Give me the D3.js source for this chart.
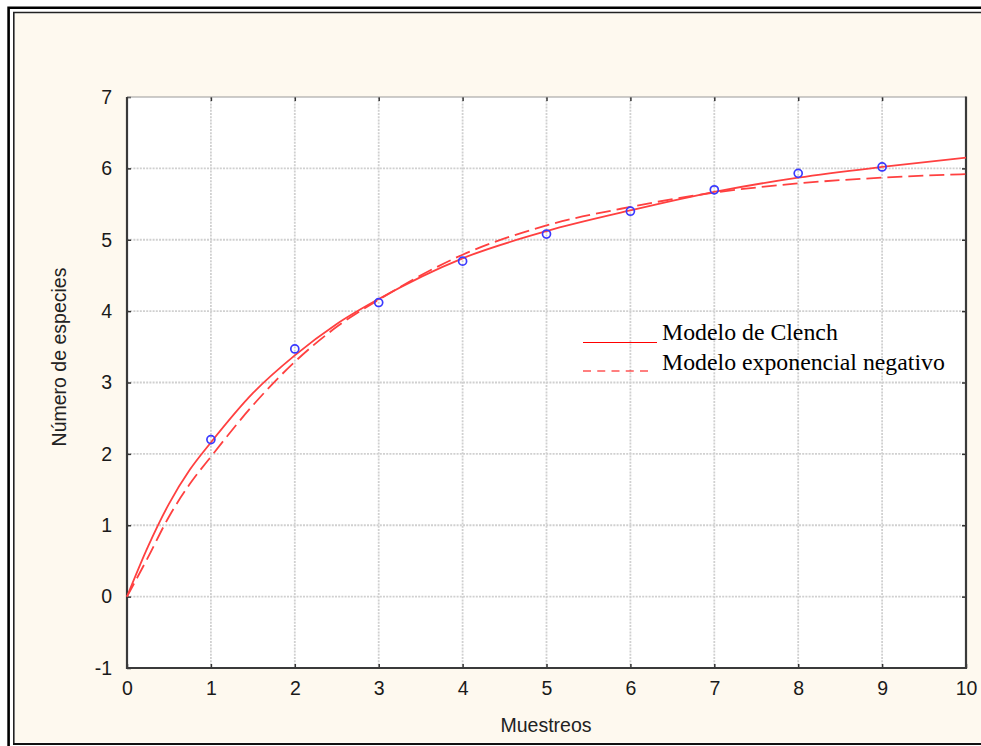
<!DOCTYPE html>
<html>
<head>
<meta charset="utf-8">
<script src="https://cdn.jsdelivr.net/npm/d3@7"></script>
<style>
    body { margin: 0; background: #fff; }
    svg { display: block; }
</style>
</head>
<body>
<div id="chart"></div>
<script>
// observed species per sample
const samples = [1, 2, 3, 4, 5, 6, 7, 8, 9];
const species = [2.2, 3.47, 4.12, 4.70, 5.08, 5.40, 5.70, 5.93, 6.02];

// fitted curves
const curveX = [0, 0.25, 0.5, 0.75, 1, 1.5, 2, 2.5, 3, 4, 5, 6, 7, 8, 9, 10];
const clench = [0, 0.70, 1.30, 1.78, 2.16, 2.85, 3.38, 3.82, 4.17, 4.74, 5.12, 5.41, 5.67, 5.87, 6.02, 6.15];
const expNeg = [0, 0.55, 1.12, 1.58, 1.96, 2.68, 3.29, 3.78, 4.16, 4.79, 5.20, 5.46, 5.66, 5.79, 5.87, 5.92];

const xTicks = [0, 1, 2, 3, 4, 5, 6, 7, 8, 9, 10];
const yTicks = [-1, 0, 1, 2, 3, 4, 5, 6, 7];
const legendLabels = ["Modelo de Clench", "Modelo exponencial negativo"];

let width = 981,
    height = 746,
    plotLeft = 127,
    plotTop = 97,
    plotRight = 966,
    plotBottom = 668;

let svg = d3.select("#chart").append("svg")
    .attr("width", width)
    .attr("height", height);

// frame
// ------------------------------------------------------
svg.append("rect")
    .attr("x", 15).attr("y", 13.5)
    .attr("width", width - 15).attr("height", 729)
    .attr("fill", "#fef9ef");

svg.append("path")
    .attr("d", "M8.6,746 V7.7 H981")
    .attr("fill", "none").attr("stroke", "#000").attr("stroke-width", 2.6);
svg.append("path")
    .attr("d", "M13.8,743.5 V12.5 H981")
    .attr("fill", "none").attr("stroke", "#222").attr("stroke-width", 1.6);
svg.append("line")
    .attr("x1", 13).attr("x2", width).attr("y1", 744).attr("y2", 744)
    .attr("stroke", "#111").attr("stroke-width", 2);

// scales
// ------------------------------------------------------
let xScale = d3.scaleLinear().domain([0, 10]).range([plotLeft, plotRight]);
let yScale = d3.scaleLinear().domain([-1, 7]).range([plotBottom, plotTop]);

svg.append("rect")
    .attr("x", plotLeft).attr("y", plotTop)
    .attr("width", plotRight - plotLeft).attr("height", plotBottom - plotTop)
    .attr("fill", "#fff");

// grid
// ------------------------------------------------------
let grid = svg.append("g").attr("class", "grid");
grid.selectAll(".vgrid")
    .data(xTicks.slice(1, -1))
    .enter().append("line")
        .attr("class", "vgrid")
        .attr("x1", d => xScale(d)).attr("x2", d => xScale(d))
        .attr("y1", plotTop).attr("y2", plotBottom);
grid.selectAll(".hgrid")
    .data(yTicks.slice(1, -1))
    .enter().append("line")
        .attr("class", "hgrid")
        .attr("x1", plotLeft).attr("x2", plotRight)
        .attr("y1", d => yScale(d)).attr("y2", d => yScale(d));
grid.selectAll("line")
    .attr("stroke", "#d0d0d0")
    .attr("stroke-width", 1.8)
    .attr("stroke-dasharray", "2,1.2");

// axes
// ------------------------------------------------------
let tickStyle = g => {
    g.select(".domain").remove();
    g.selectAll(".tick line").attr("stroke", "#333").attr("stroke-width", 1.5);
    g.selectAll(".tick text")
        .attr("fill", "#1a1a1a")
        .style("font-family", "'Liberation Sans', Arial, sans-serif")
        .style("font-size", "19.5px");
};
let plain = d => String(d);

svg.append("g")
    .attr("transform", `translate(0, ${plotBottom})`)
    .call(d3.axisBottom(xScale).tickValues(xTicks).tickSize(-4).tickPadding(13).tickFormat(plain))
    .call(tickStyle);
svg.append("g")
    .attr("transform", `translate(0, ${plotTop})`)
    .call(d3.axisTop(xScale).tickValues(xTicks.slice(1, -1)).tickSize(-4).tickFormat(""))
    .call(tickStyle);
svg.append("g")
    .attr("transform", `translate(${plotLeft}, 0)`)
    .call(d3.axisLeft(yScale).tickValues(yTicks).tickSize(-4).tickPadding(15).tickFormat(plain))
    .call(tickStyle);
svg.append("g")
    .attr("transform", `translate(${plotRight}, 0)`)
    .call(d3.axisRight(yScale).tickValues(yTicks.slice(1, -1)).tickSize(-4).tickFormat(""))
    .call(tickStyle);

// plot border: light top, dark left/right/bottom
svg.append("line")
    .attr("x1", plotLeft).attr("x2", plotRight).attr("y1", plotTop).attr("y2", plotTop)
    .attr("stroke", "#999").attr("stroke-width", 1.2);
svg.append("path")
    .attr("d", `M${plotLeft},${plotTop} V${plotBottom} H${plotRight} V${plotTop - 0.5}`)
    .attr("fill", "none").attr("stroke", "#3a3a3a").attr("stroke-width", 2.2);

// axis titles
svg.append("text")
    .attr("x", 546).attr("y", 732)
    .attr("text-anchor", "middle")
    .attr("fill", "#222")
    .style("font-family", "'Liberation Sans', Arial, sans-serif")
    .style("font-size", "19.5px")
    .text("Muestreos");
svg.append("text")
    .attr("transform", "translate(66, 357) rotate(-90)")
    .attr("text-anchor", "middle")
    .attr("fill", "#222")
    .style("font-family", "'Liberation Sans', Arial, sans-serif")
    .style("font-size", "19.5px")
    .text("Número de especies");

// curves
// ------------------------------------------------------
let line = d3.line()
    .x(d => xScale(d[0]))
    .y(d => yScale(d[1]))
    .curve(d3.curveMonotoneX);

svg.append("path")
    .datum(d3.zip(curveX, clench))
    .attr("d", line)
    .attr("fill", "none")
    .attr("stroke", "#ff4040")
    .attr("stroke-width", 1.8);
svg.append("path")
    .datum(d3.zip(curveX, expNeg))
    .attr("d", line)
    .attr("fill", "none")
    .attr("stroke", "#ff4040")
    .attr("stroke-width", 1.8)
    .attr("stroke-dasharray", "15,6");

// points
// ------------------------------------------------------
svg.selectAll(".point")
    .data(d3.zip(samples, species))
    .enter().append("circle")
        .attr("class", "point")
        .attr("cx", d => xScale(d[0]))
        .attr("cy", d => yScale(d[1]))
        .attr("r", 4)
        .attr("fill", "none")
        .attr("stroke", "#3a3aff")
        .attr("stroke-width", 1.7);

// legend
// ------------------------------------------------------
let legend = svg.append("g").attr("class", "legend");
legend.append("line")
    .attr("x1", 583).attr("x2", 657).attr("y1", 342.5).attr("y2", 342.5)
    .attr("stroke", "#ff0000").attr("stroke-width", 1.1);
legend.append("line")
    .attr("x1", 583).attr("x2", 648).attr("y1", 371).attr("y2", 371)
    .attr("stroke", "#ff0000").attr("stroke-width", 1.1)
    .attr("stroke-dasharray", "8,6.25");
legend.selectAll("text")
    .data(legendLabels)
    .enter().append("text")
        .attr("x", 662)
        .attr("y", (d, i) => 340 + i * 30)
        .attr("fill", "#000")
        .style("font-family", "'Liberation Serif', 'Times New Roman', serif")
        .style("font-size", "23.8px")
        .text(d => d);
</script>
</body>
</html>
